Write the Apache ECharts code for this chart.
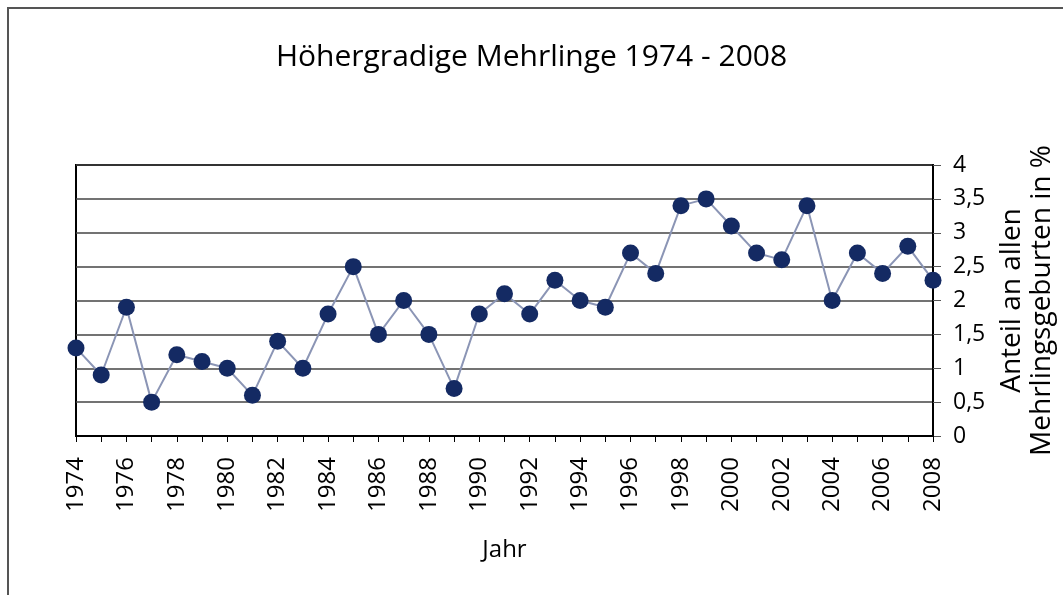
<!DOCTYPE html>
<html>
<head>
<meta charset="utf-8">
<script src="https://cdn.jsdelivr.net/npm/echarts@6/dist/echarts.min.js"></script>
<style>
  html, body { margin: 0; padding: 0; background: #fff; }
  #chart { width: 1063px; height: 595px; }
</style>
</head>
<body>
<div id="chart"></div>
<script>
// Jahre 1974 - 2008
const years = []
for (let y = 1974; y <= 2008; y++) years.push(String(y))

// Anteil an allen Mehrlingsgeburten in %
const shares = [
  1.3, 0.9, 1.9, 0.5, 1.2, 1.1, 1.0, 0.6, 1.4, 1.0,
  1.8, 2.5, 1.5, 2.0, 1.5, 0.7, 1.8, 2.1, 1.8, 2.3,
  2.0, 1.9, 2.7, 2.4, 3.4, 3.5, 3.1, 2.7, 2.6, 3.4,
  2.0, 2.7, 2.4, 2.8, 2.3
]

const font = '"Open Sans", "Noto Sans", sans-serif'

const chart = echarts.init(document.getElementById('chart'))
chart.setOption({
  animation: false,
  backgroundColor: '#fff',
  textStyle: { fontFamily: font, color: '#000' },
  title: {
    text: 'Höhergradige Mehrlinge 1974 - 2008',
    left: 'center',
    top: 37,
    textStyle: { fontFamily: font, fontSize: 30, fontWeight: 'normal', color: '#000' }
  },
  graphic: [{
    type: 'rect',
    shape: { x: 8, y: 8, width: 1100, height: 640 },
    style: { fill: 'none', stroke: '#555', lineWidth: 2 },
    silent: true
  }],
  grid: {
    left: 76, right: 130, top: 165, bottom: 159,
    outerBoundsMode: 'none',
    containLabel: false,
    show: true, borderColor: '#000', borderWidth: 2
  },
  xAxis: {
    type: 'category',
    data: years,
    boundaryGap: false,
    name: 'Jahr',
    nameLocation: 'middle',
    nameGap: 102,
    nameTextStyle: { fontSize: 24, color: '#000' },
    axisLine: { lineStyle: { color: '#000', width: 2 } },
    axisTick: { show: true, interval: 0, length: 6, lineStyle: { color: '#000', width: 1 } },
    axisLabel: { interval: 1, rotate: 90, fontSize: 24, color: '#000', margin: 21 },
    splitLine: { show: false }
  },
  yAxis: {
    type: 'value',
    position: 'right',
    min: 0, max: 4, interval: 0.5,
    name: 'Anteil an allen\nMehrlingsgeburten in %',
    nameLocation: 'middle',
    nameRotate: 90,
    nameGap: 64,
    nameTextStyle: { fontSize: 28, color: '#000', lineHeight: 30 },
    axisLine: { show: true, lineStyle: { color: '#000', width: 2 } },
    axisTick: { show: true, length: 8, lineStyle: { color: '#555', width: 1 } },
    axisLabel: {
      fontSize: 23, color: '#000', margin: 20,
      formatter: v => String(v).replace('.', ',')
    },
    splitLine: { lineStyle: { color: '#444', width: 1.5 } }
  },
  series: [{
    type: 'line',
    data: shares,
    symbol: 'circle',
    symbolSize: 17,
    showAllSymbol: true,
    lineStyle: { color: '#8b95b5', width: 2 },
    itemStyle: { color: '#142a63' }
  }]
})
</script>
</body>
</html>
